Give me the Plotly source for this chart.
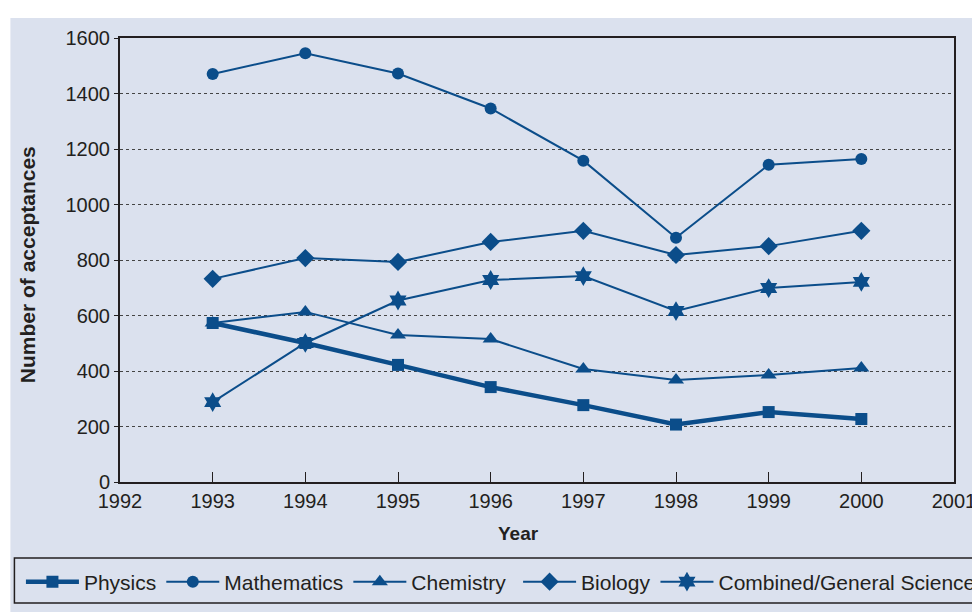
import plotly.graph_objects as go

years = [1993, 1994, 1995, 1996, 1997, 1998, 1999, 2000]

physics = [573, 501, 422, 342, 277, 207, 252, 227]
mathematics = [1470, 1545, 1472, 1346, 1158, 880, 1143, 1164]
chemistry = [573, 613, 530, 515, 407, 368, 386, 411]
biology = [732, 807, 793, 865, 905, 818, 850, 905]
combined = [288, 501, 654, 728, 742, 616, 699, 721]

x_ticks = list(range(1992, 2002))
y_ticks = list(range(0, 1601, 200))

BLUE = "#0b4d8a"
BG = "#dbe1ee"
INK = "#231f20"
FONT = "Liberation Sans, Arial, sans-serif"

# name, values, marker, marker size, line width, legend
series = [
    ("Physics", physics, "square", 12, 4.5, "legend"),
    ("Mathematics", mathematics, "circle", 12, 2, "legend"),
    ("Chemistry", chemistry, "triangle-up", 14, 2, "legend"),
    ("Biology", biology, "diamond", 14, 2, "legend2"),
    ("Combined/General Science", combined, "hexagram", 15, 2, "legend2"),
]

fig = go.Figure()
for name, vals, sym, size, lw, leg in series:
    fig.add_trace(go.Scatter(
        x=years, y=vals, name=name, mode="lines+markers",
        line=dict(color=BLUE, width=lw),
        marker=dict(symbol=sym, size=size, color=BLUE),
        legend=leg,
    ))

# light blue panel behind everything (page has an 8px body margin)
fig.add_shape(type="rect", xref="paper", yref="paper",
              x0=-0.1314, x1=1.08, y0=-0.33, y1=1.045,
              fillcolor=BG, line_width=0, layer="below")
# legend frame (runs off the right edge like the original)
fig.add_shape(type="rect", xref="paper", yref="paper",
              x0=-0.1266, x1=1.08, y0=-0.2725, y1=-0.1712,
              fillcolor="rgba(0,0,0,0)", line=dict(color=INK, width=1.5))

# axis titles as annotations so they sit where the original has them
fig.add_annotation(text="<b>Year</b>", xref="paper", yref="paper",
                   x=0.478, y=-0.115, showarrow=False,
                   xanchor="center", yanchor="middle", font=dict(size=19))
fig.add_annotation(text="<b>Number of acceptances</b>", xref="paper", yref="paper",
                   x=-0.110, y=0.489, showarrow=False, textangle=-90,
                   xanchor="center", yanchor="middle", font=dict(size=21))

# legend split in two so the single row is not wrapped
leg_common = dict(
    orientation="h", xref="container", yref="container",
    yanchor="middle", y=0.0621, xanchor="left",
    bgcolor="rgba(0,0,0,0)", borderwidth=0,
    font=dict(size=21), itemwidth=53, tracegroupgap=0,
)

fig.update_layout(
    width=980, height=612,
    paper_bgcolor="white", plot_bgcolor="rgba(0,0,0,0)",
    margin=dict(l=112, r=31, t=30, b=138),
    font=dict(family=FONT, size=20, color=INK),
    showlegend=True,
    legend=dict(x=0.0132, **leg_common),
    legend2=dict(x=0.5205, **leg_common),
)
fig.update_xaxes(
    range=[1992, 2001], tickvals=x_ticks, showgrid=False,
    showline=True, linecolor=INK, linewidth=2, mirror=True,
    ticks="inside", ticklen=10, tickcolor=INK, tickwidth=1,
    zeroline=False,
)
fig.update_yaxes(
    range=[0, 1600], tickvals=y_ticks,
    showgrid=True, gridcolor="#444444", griddash="dot", gridwidth=1,
    showline=True, linecolor=INK, linewidth=2, mirror=True,
    ticks="outside", ticklen=4, tickcolor=INK,
    zeroline=False,
)

fig.write_html("out.html")
